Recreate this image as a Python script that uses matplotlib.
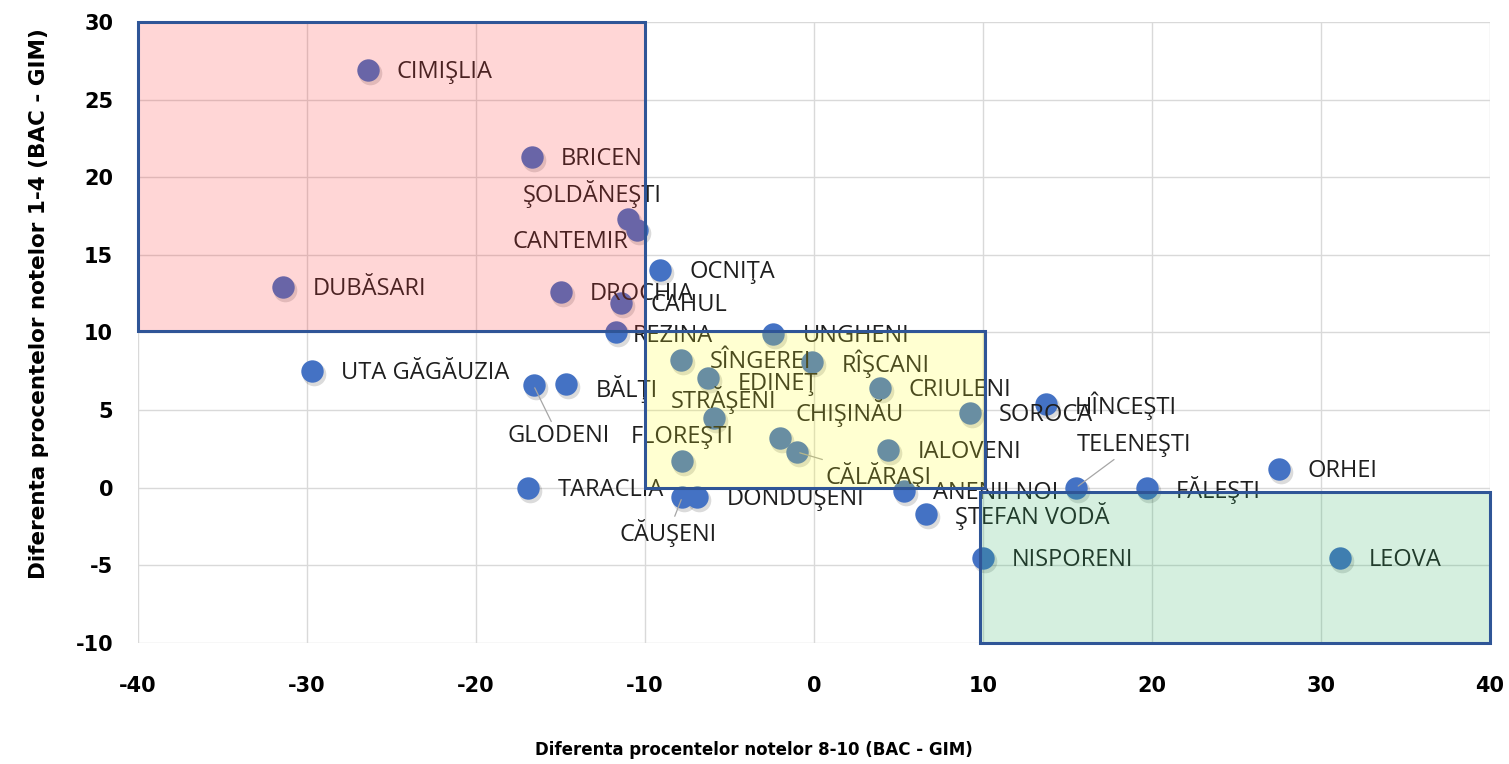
import matplotlib
matplotlib.use("Agg")
import matplotlib.pyplot as plt
from matplotlib.patches import Rectangle
from matplotlib.transforms import offset_copy

plt.rcParams["axes.unicode_minus"] = False

# data
raioane = ["CIMIŞLIA", "BRICENI", "ŞOLDĂNEŞTI", "CANTEMIR", "DUBĂSARI", "DROCHIA",
           "CAHUL", "REZINA", "OCNIŢA", "UNGHENI", "SÎNGEREI", "EDINEŢ", "RÎŞCANI",
           "CRIULENI", "STRĂŞENI", "CHIŞINĂU", "CĂLĂRAŞI", "FLOREŞTI", "SOROCA",
           "IALOVENI", "HÎNCEŞTI", "TELENEŞTI", "FĂLEŞTI", "ORHEI", "ANENII NOI",
           "ŞTEFAN VODĂ", "NISPORENI", "LEOVA", "DONDUŞENI", "CĂUŞENI", "TARACLIA",
           "UTA GĂGĂUZIA", "GLODENI", "BĂLŢI"]
dif_8_10 = [-26.4, -16.7, -11.0, -10.5, -31.4, -15.0, -11.4, -11.7, -9.1, -2.4, -7.9,
            -6.3, -0.1, 3.9, -5.9, -2.0, -1.0, -7.8, 9.2, 4.4, 13.7, 15.5, 19.7, 27.5,
            5.3, 6.6, 10.0, 31.1, -6.9, -7.8, -16.9, -29.7, -16.6, -14.7]
dif_1_4 = [26.9, 21.3, 17.3, 16.6, 12.9, 12.6, 11.9, 10.0, 14.0, 9.9, 8.2, 7.1, 8.1,
           6.4, 4.5, 3.2, 2.3, 1.7, 4.8, 2.4, 5.4, 0.0, 0.0, 1.2, -0.2, -1.7, -4.5,
           -4.5, -0.6, -0.6, 0.0, 7.5, 6.6, 6.7]

# label placement (pixels from the marker, y down), alignment, leader line
default_off = (29, 2)
label_off = {
    "ŞOLDĂNEŞTI": (-36, -25, "center", False),
    "CANTEMIR": (-8, 12, "right", False),
    "REZINA": (16, 4, "left", False),
    "EDINEŢ": (30, 6, "left", False),
    "STRĂŞENI": (9, -18, "center", False),
    "CHIŞINĂU": (15, -25, "left", False),
    "CĂLĂRAŞI": (28, 24, "left", True),
    "FLOREŞTI": (0, -24, "center", False),
    "TELENEŞTI": (58, -43, "center", True),
    "CĂUŞENI": (-14, 36, "center", True),
    "GLODENI": (25, 51, "center", True),
    "BĂLŢI": (30, 5, "left", False),
}

fig = plt.figure(figsize=(15.09, 7.64), dpi=100)
ax = fig.add_axes([0.0915, 0.1584, 0.8959, 0.8128])

ax.set_xlim(-40, 40)
ax.set_ylim(-10, 30)
ax.set_xticks(range(-40, 41, 10))
ax.set_yticks(range(-10, 31, 5))
ax.grid(True, color="#D9D9D9", lw=1)
ax.set_axisbelow(True)
for s in ax.spines.values():
    s.set_visible(False)
ax.tick_params(length=0, labelsize=15)
ax.tick_params(axis="x", pad=24)
ax.tick_params(axis="y", pad=18)
for t in ax.get_xticklabels() + ax.get_yticklabels():
    t.set_fontweight("bold")

# shadow under the markers
shadow = offset_copy(ax.transData, fig=fig, x=2, y=-3, units="dots")
ax.scatter(dif_8_10, dif_1_4, s=290, color="black", alpha=0.14, lw=0,
           transform=shadow, zorder=2)
ax.scatter(dif_8_10, dif_1_4, s=260, color="#4472C4", lw=0, zorder=3)

for name, x, y in zip(raioane, dif_8_10, dif_1_4):
    dx, dy, ha, lead = label_off.get(name, (default_off[0], default_off[1], "left", False))
    arrow = dict(arrowstyle="-", color="#A6A6A6", lw=0.9, shrinkA=0, shrinkB=2) if lead else None
    ax.annotate(name, (x, y), xytext=(dx, -dy), textcoords="offset pixels",
                ha=ha, va="center", fontsize=17, family="Open Sans",
                color="#1F1F1F", arrowprops=arrow, zorder=4)

# highlighted zones, drawn over the points like in the original
zones = [((-40, 10.1), 30, 19.9, (1.0, 0.2, 0.2, 0.2)),
         ((-10, 0), 20.1, 10.1, (1.0, 1.0, 0.1, 0.2)),
         ((9.8, -10), 30.2, 9.7, (0.18, 0.7, 0.39, 0.2))]
for xy, w, h, fc in zones:
    ax.add_patch(Rectangle(xy, w, h, facecolor=fc, edgecolor="#2F5597",
                           lw=2.2, zorder=5, clip_on=False))

ax.set_xlabel("Diferenta procentelor notelor 8-10 (BAC - GIM)", fontsize=12,
              fontweight="bold")
ax.set_ylabel("Diferenta procentelor notelor 1-4 (BAC - GIM)", fontsize=15.5,
              fontweight="bold")
ax.xaxis.set_label_coords(0.4556, -0.158)
ax.yaxis.set_label_coords(-0.066, 0.546)

fig.savefig("out.png", dpi=100)
